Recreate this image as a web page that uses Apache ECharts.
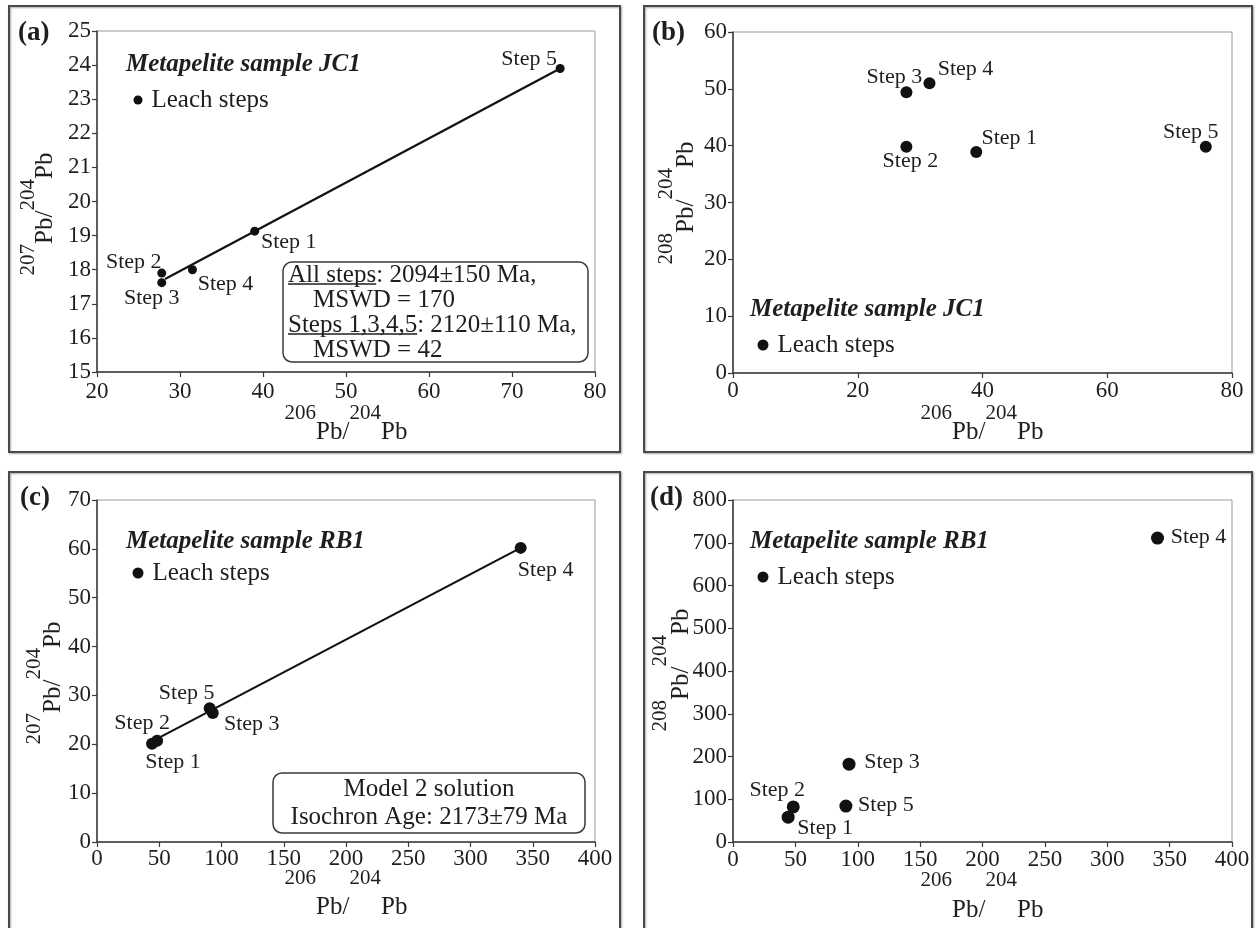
<!DOCTYPE html>
<html>
<head>
<meta charset="utf-8">
<script src="https://cdn.jsdelivr.net/npm/echarts@6/dist/echarts.min.js"></script>
<style>
html, body { margin: 0; padding: 0; background: #fff; }
#main { width: 1255px; height: 928px; }
</style>
</head>
<body>
<div id="main"></div>
<script>
var stepNames = ['Step 1', 'Step 2', 'Step 3', 'Step 4', 'Step 5'];

// Metapelite JC1 leach steps
var jc1Pb206 = [39.0, 27.8, 27.8, 31.5, 75.8];
var jc1Pb207 = [19.13, 17.9, 17.62, 18.0, 23.9];
var jc1Pb208 = [38.9, 39.8, 49.4, 51.0, 39.8];

// Metapelite RB1 leach steps
var rb1Pb206 = [44.2, 48.3, 93.0, 340.3, 90.5];
var rb1Pb207 = [20.1, 20.7, 26.4, 60.2, 27.4];
var rb1Pb208 = [58, 82, 182, 711, 84];

// isochron end points [206/204, 207/204]
var jc1Isochron = [[28.2, 17.73], [75.8, 23.9]];
var rb1Isochron = [[45, 20.7], [340.3, 60.2]];

// axis ranges [min, max, interval]
var jc1XRange = [20, 80, 10], jc1Y7Range = [15, 25, 1];
var jc1X8Range = [0, 80, 20], jc1Y8Range = [0, 60, 10];
var rb1XRange = [0, 400, 50], rb1Y7Range = [0, 70, 10], rb1Y8Range = [0, 800, 100];

// label offsets (px) from each dot, Step 1..5
var offA = [[34, 11], [-28, -11], [-10, 16], [33, 15], [-31, -9]];
var offB = [[33, -14], [4, 14], [-12, -15], [36, -14], [-15, -15]];
var offC = [[21, 18], [-15, -18], [39, 11], [25, 22], [-23, -15]];
var offD = [[37, 11], [-16, -17], [43, -2], [41, -1], [40, -1]];

var FONT = '"Liberation Serif", "Times New Roman", serif';
var INK = '#1e1e1e';

var panels = [
    {grid: {left: 97, top: 31, width: 498, height: 341}, xr: jc1XRange, yr: jc1Y7Range,
     xs: jc1Pb206, ys: jc1Pb207, offs: offA, size: 9, line: jc1Isochron, margin: 8,
     letter: '(a)', letterPos: [18, 19], title: 'Metapelite sample JC1', titlePos: [126, 52],
     legendPos: [133.5, 87], legendSize: 9,
     xt: {x: 346, y: 432, off: 19}, yt: {x: 45, y: 214, off: 17, iso: '207'}},
    {grid: {left: 733, top: 32, width: 499, height: 341}, xr: jc1X8Range, yr: jc1Y8Range,
     xs: jc1Pb206, ys: jc1Pb208, offs: offB, size: 12, line: null, margin: 6,
     letter: '(b)', letterPos: [652, 19], title: 'Metapelite sample JC1', titlePos: [750, 297],
     legendPos: [757.5, 332], legendSize: 11,
     xt: {x: 982, y: 432, off: 19}, yt: {x: 686, y: 203, off: 20, iso: '208'}},
    {grid: {left: 97, top: 500, width: 498, height: 342}, xr: rb1XRange, yr: rb1Y7Range,
     xs: rb1Pb206, ys: rb1Pb207, offs: offC, size: 12, line: rb1Isochron, margin: 5,
     letter: '(c)', letterPos: [20, 484], title: 'Metapelite sample RB1', titlePos: [126, 529],
     legendPos: [132.5, 560], legendSize: 11,
     xt: {x: 346, y: 907, off: 29}, yt: {x: 53, y: 683, off: 19, iso: '207'}},
    {grid: {left: 733, top: 500, width: 499, height: 342}, xr: rb1XRange, yr: rb1Y8Range,
     xs: rb1Pb206, ys: rb1Pb208, offs: offD, size: 13, line: null, margin: 6,
     letter: '(d)', letterPos: [650, 484], title: 'Metapelite sample RB1', titlePos: [750, 529],
     legendPos: [757.5, 564], legendSize: 11,
     xt: {x: 982, y: 910, off: 30}, yt: {x: 681, y: 670, off: 21, iso: '208'}}
];

function axisCfg(i, r, margin) {
    return {
        type: 'value', gridIndex: i, min: r[0], max: r[1], interval: r[2],
        splitLine: {show: false},
        axisLine: {lineStyle: {color: '#3a3a3a', width: 1.5}},
        axisTick: {inside: false, length: 5, lineStyle: {color: '#3a3a3a', width: 1.2}},
        axisLabel: {fontFamily: FONT, fontSize: 23, color: INK, margin: margin}
    };
}

// rich text for 2xxPb/204Pb, superscripts raised by "off" px
function isoText(iso, off) {
    return {
        text: '{s|' + iso + '}{n|Pb/}{s|204}{n|Pb}',
        x: 0, y: 0, fill: INK,
        textAlign: 'center', textVerticalAlign: 'middle',
        rich: {
            s: {font: '21px ' + FONT, height: 20, lineHeight: 20, verticalAlign: 'top'},
            n: {font: '25px ' + FONT, lineHeight: 2 * (off + 10)}
        }
    };
}

var ctx = document.createElement('canvas').getContext('2d');
ctx.font = '25px "Liberation Serif"';
function tw(s) { return ctx.measureText(s).width; }

var grids = [], xAxes = [], yAxes = [], series = [], titles = [], legends = [], graphics = [];

// panel frames
[[9, 6, 611, 446], [644, 6, 608, 446], [9, 472, 611, 470], [644, 472, 608, 470]].forEach(function (f) {
    graphics.push({type: 'rect', shape: {x: f[0], y: f[1], width: f[2], height: f[3]},
        style: {fill: 'none', stroke: '#4a4a4a', lineWidth: 2,
            shadowColor: 'rgba(0,0,0,0.35)', shadowBlur: 2, shadowOffsetX: 1, shadowOffsetY: 1}, z: 0});
});

panels.forEach(function (p, i) {
    grids.push(Object.assign({show: true, borderColor: '#9a9a9a', borderWidth: 1, backgroundColor: 'transparent'}, p.grid));
    xAxes.push(axisCfg(i, p.xr, p.margin));
    yAxes.push(axisCfg(i, p.yr, 6));

    series.push({
        type: 'scatter', name: 'Leach steps', xAxisIndex: i, yAxisIndex: i,
        symbolSize: p.size, itemStyle: {color: '#111', opacity: 1}, z: 3,
        label: {show: true, position: 'inside', formatter: '{b}', fontFamily: FONT, fontSize: 22, color: INK},
        data: stepNames.map(function (n, k) {
            return {name: n, value: [p.xs[k], p.ys[k]], label: {offset: p.offs[k]}};
        })
    });
    if (p.line) {
        series.push({
            type: 'line', name: 'isochron', xAxisIndex: i, yAxisIndex: i, data: p.line,
            symbol: 'none', silent: true, z: 2, lineStyle: {color: '#111', width: 2.2}
        });
    }

    titles.push({text: p.letter, left: p.letterPos[0], top: p.letterPos[1], padding: 0,
        textStyle: {fontFamily: FONT, fontSize: 27, fontWeight: 'bold', color: INK, lineHeight: 28}});
    titles.push({text: p.title, left: p.titlePos[0], top: p.titlePos[1], padding: 0,
        textStyle: {fontFamily: FONT, fontSize: 25, fontWeight: 'bold', fontStyle: 'italic', color: INK, lineHeight: 26}});

    legends.push({
        data: [{name: 'Leach steps', icon: 'circle'}], selectedMode: false,
        left: p.legendPos[0], top: p.legendPos[1], padding: 0,
        itemWidth: p.legendSize, itemHeight: p.legendSize,
        itemStyle: {color: '#111', opacity: 1},
        textStyle: {fontFamily: FONT, fontSize: 25, color: INK, lineHeight: 26, padding: [0, 0, 0, 4]}
    });

    graphics.push({type: 'text', x: p.xt.x, y: p.xt.y, style: isoText('206', p.xt.off), z: 5});
    graphics.push({type: 'text', x: p.yt.x, y: p.yt.y, rotation: Math.PI / 2, style: isoText(p.yt.iso, p.yt.off), z: 5});
});

// result boxes
graphics.push({type: 'rect', shape: {x: 283, y: 262, width: 305, height: 100, r: 9},
    style: {fill: '#fff', stroke: '#3a3a3a', lineWidth: 1.5}, z: 4});
var boxA = [['All steps: 2094±150 Ma,', 288, 275], ['MSWD = 170', 313, 300],
            ['Steps 1,3,4,5: 2120±110 Ma,', 288, 325], ['MSWD = 42', 313, 350]];
boxA.forEach(function (t) {
    graphics.push({type: 'text', style: {text: t[0], x: t[1], y: t[2], font: '25px ' + FONT, fill: INK,
        textAlign: 'left', textVerticalAlign: 'middle'}, z: 5});
});
[['All steps', 288, 284], ['Steps 1,3,4,5', 288, 334]].forEach(function (u) {
    graphics.push({type: 'line', shape: {x1: u[1], y1: u[2], x2: u[1] + tw(u[0]), y2: u[2]},
        style: {stroke: INK, lineWidth: 1.3}, z: 5});
});

graphics.push({type: 'rect', shape: {x: 273, y: 773, width: 312, height: 60, r: 9},
    style: {fill: '#fff', stroke: '#3a3a3a', lineWidth: 1.5}, z: 4});
[['Model 2 solution', 789], ['Isochron Age: 2173±79 Ma', 817]].forEach(function (t) {
    graphics.push({type: 'text', style: {text: t[0], x: 429, y: t[1], font: '25px ' + FONT, fill: INK,
        textAlign: 'center', textVerticalAlign: 'middle'}, z: 5});
});

var chart = echarts.init(document.getElementById('main'));
chart.setOption({
    animation: false,
    backgroundColor: '#fff',
    title: titles,
    legend: legends,
    grid: grids,
    xAxis: xAxes,
    yAxis: yAxes,
    series: series,
    graphic: graphics
});
</script>
</body>
</html>
